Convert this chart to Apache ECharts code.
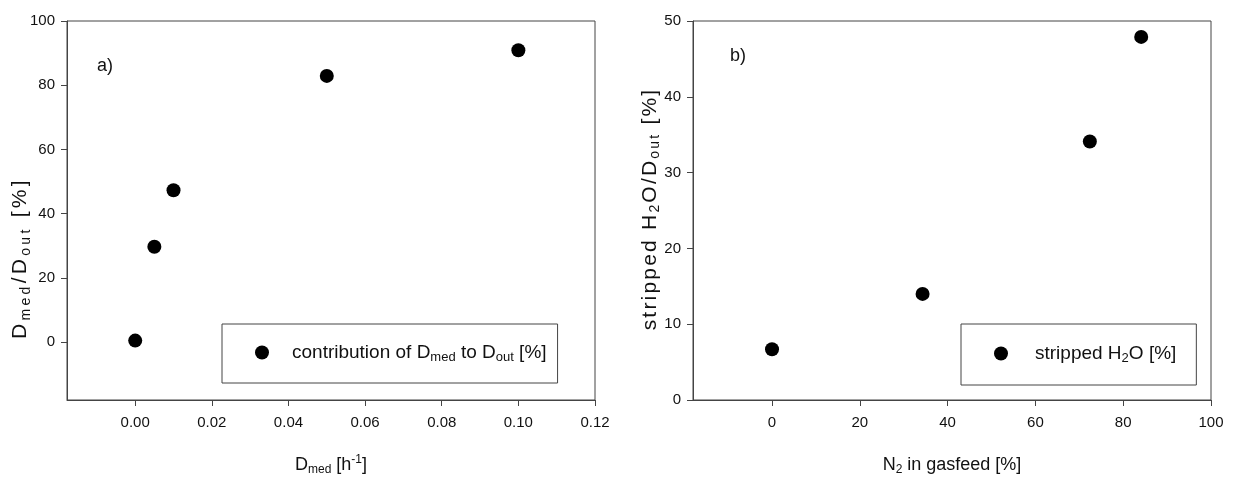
<!DOCTYPE html>
<html><head><meta charset="utf-8">
<script src="https://cdn.jsdelivr.net/npm/echarts@6/dist/echarts.min.js"></script>
<style>html,body{margin:0;padding:0;background:#fff}#c{width:1235px;height:478px}</style>
</head><body><div id="c"></div>
<script>
// ---- data ----
const dmedX = [0, 0.005, 0.01, 0.05, 0.10];
const contribY = [0.5, 29.7, 47.3, 82.9, 90.9];
const n2X = [0, 34.3, 72.4, 84.1];
const strippedY = [6.7, 14.0, 34.1, 47.9];
const leftXTicks = [0, 0.02, 0.04, 0.06, 0.08, 0.10, 0.12];
const leftYTicks = [0, 20, 40, 60, 80, 100];
const rightXTicks = [0, 20, 40, 60, 80, 100];
const rightYTicks = [0, 10, 20, 30, 40, 50];
const seriesNames = ['contribution of Dmed to Dout [%]', 'stripped H2O [%]'];
const panelLabels = ['a)', 'b)'];
const leftYTitle = [['n', 'D'], ['s', 'med'], ['n', '/D'], ['s', 'out'], ['n', ' [%]']];
const rightYTitle = [['n', 'stripped H'], ['s', '2'], ['n', 'O/D'], ['s', 'out'], ['n', ' [%]']];

// ---- styling ----
const font = '"Liberation Sans", Arial, sans-serif';
const ink = '#111';
const lineCol = '#444';
function richSet(main, sub, gap) {
  const p = gap ? [0, gap, 0, 0] : 0;
  return {
    n: {fontSize: main, fontFamily: font, color: ink, fill: ink, lineHeight: main + 4, padding: p},
    s: {fontSize: sub, fontFamily: font, color: ink, fill: ink, lineHeight: sub, verticalAlign: 'bottom', padding: p},
    u: {fontSize: sub, fontFamily: font, color: ink, fill: ink, lineHeight: sub, verticalAlign: 'top', padding: p}
  };
}
const titleRich = richSet(18, 12);
const legendRich = richSet(19, 13);
function axis(gridIndex, min, max, ticks, fmt, margin, extra) {
  return Object.assign({
    type: 'value', gridIndex, min, max,
    axisLine: {show: true, onZero: false, lineStyle: {color: lineCol, width: 1}},
    axisTick: {show: true, inside: false, length: 6, customValues: ticks, lineStyle: {color: lineCol, width: 1}},
    splitLine: {show: false},
    axisLabel: {show: true, customValues: ticks, color: ink, fontSize: 15, fontFamily: font, margin, formatter: fmt},
    nameLocation: 'middle',
    nameTextStyle: {rich: titleRich}
  }, extra);
}
// rotated titles: the reference renders them slightly letter-spaced
function vTitle(parts, x, y, gap) {
  const text = parts.map(([st, str]) => str.split('').map(c => '{' + st + '|' + c + '}').join('')).join('');
  return {
    type: 'text', x, y, rotation: Math.PI / 2,
    style: {text, rich: richSet(21, 14, gap), align: 'center', verticalAlign: 'middle', fill: ink,
            fontSize: 21, fontFamily: font}
  };
}
const chart = echarts.init(document.getElementById('c'), null, {renderer: 'canvas'});
chart.setOption({
  animation: false,
  backgroundColor: '#fff',
  grid: [
    {left: 67, top: 21, width: 528, height: 379, show: true, borderColor: lineCol, borderWidth: 1,
     backgroundColor: 'transparent', containLabel: false, outerBoundsMode: 'none'},
    {left: 693, top: 21, width: 518, height: 379, show: true, borderColor: lineCol, borderWidth: 1,
     backgroundColor: 'transparent', containLabel: false, outerBoundsMode: 'none'}
  ],
  xAxis: [
    axis(0, -0.0178, 0.12, leftXTicks, v => v.toFixed(2), 15, {
      name: '{n|D}{s|med}{n| [h}{u|-1}{n|]}', nameGap: 54
    }),
    axis(1, -18, 100, rightXTicks, v => String(v), 15, {
      name: '{n|N}{s|2}{n| in gasfeed [%]}', nameGap: 54
    })
  ],
  yAxis: [
    axis(0, -18, 100, leftYTicks, v => String(v), 12, {}),
    axis(1, 0, 50, rightYTicks, v => String(v), 12, {})
  ],
  legend: [
    {
      data: [seriesNames[0]], left: 222, top: 324, icon: 'circle', itemWidth: 14, itemHeight: 14,
      borderColor: lineCol, borderWidth: 1, padding: [19, 11, 19, 33], selectedMode: false,
      formatter: () => '{n|contribution of D}{s|med}{n| to D}{s|out}{n| [%]}',
      textStyle: {rich: legendRich, padding: [0, 0, 0, 18]}
    },
    {
      data: [seriesNames[1]], left: 961, top: 324, icon: 'circle', itemWidth: 14, itemHeight: 14,
      borderColor: lineCol, borderWidth: 1, padding: [20, 20, 20, 33], selectedMode: false,
      formatter: () => '{n|stripped H}{s|2}{n|O [%]}',
      textStyle: {rich: legendRich, padding: [0, 0, 0, 22]}
    }
  ],
  graphic: [
    {type: 'text', left: 97, top: 57, style: {text: panelLabels[0], font: '18px ' + font, fill: ink}},
    {type: 'text', left: 730, top: 47, style: {text: panelLabels[1], font: '18px ' + font, fill: ink}},
    vTitle(leftYTitle, 20.5, 258, 3.3),
    vTitle(rightYTitle, 650, 209, 2.2)
  ],
  series: [
    {name: seriesNames[0], type: 'scatter', xAxisIndex: 0, yAxisIndex: 0, symbol: 'circle', symbolSize: 14,
     itemStyle: {color: '#000', opacity: 1}, data: dmedX.map((x, i) => [x, contribY[i]])},
    {name: seriesNames[1], type: 'scatter', xAxisIndex: 1, yAxisIndex: 1, symbol: 'circle', symbolSize: 14,
     itemStyle: {color: '#000', opacity: 1}, data: n2X.map((x, i) => [x, strippedY[i]])}
  ]
});
</script></body></html>
